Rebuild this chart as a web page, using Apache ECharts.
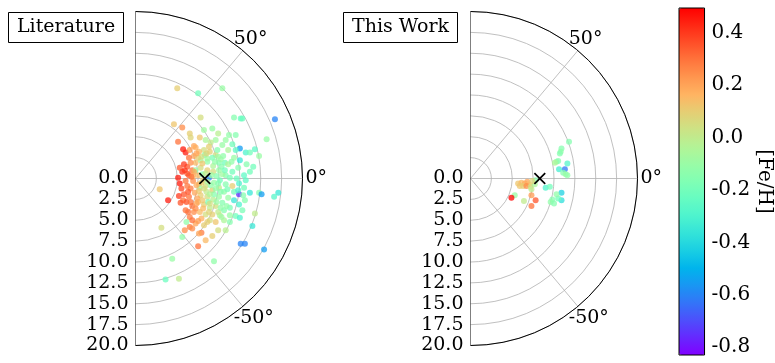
<!DOCTYPE html>
<html><head><meta charset="utf-8">
<script src="https://cdn.jsdelivr.net/npm/echarts@6/dist/echarts.min.js"></script>
<style>html,body{margin:0;padding:0;background:#fff}#c{width:775px;height:363px}</style>
</head><body><div id="c"></div>
<script>
const FONT = 'DejaVu Serif';
const panelTitles = ['Literature', 'This Work'];
const angleTicks = [-50, 0, 50];
const colorbarTicks = [-0.8, -0.6, -0.4, -0.2, 0.0, 0.2, 0.4];
const fehMin = -0.83, fehMax = 0.495;
const sunR = 8.3, sunPhi = 0;

// Literature sample: galactocentric X, Y (kpc) and [Fe/H]
const litX = [5.0,7.5,10.4,7.8,4.6,5.6,11.8,12.6,12.8,16.7,15.7,6.5,6.6,7.7,5.1,5.7,6.0,7.0,9.9,11.2,12.0,12.5,13.2,13.7,14.3,14.8,13.3,14.1,12.4,13.7,14.8,15.1,17.1,16.6,12.4,12.4,13.1,14.3,14.0,12.6,13.1,15.4,9.4,4.4,5.2,3.6,3.1,2.9,3.9,5.3,5.6,5.6,6.1,7.9,5.9,6.5,7.2,8.2,8.9,9.6,10.1,10.6,11.3,11.1,11.8,11.6,10.8,11.6,12.3,13.0,12.5,11.8,11.1,10.4,9.6,9.0,8.4,10.5,9.6,8.9,8.2,7.6,7.0,6.4,6.2,6.8,6.4,7.2,7.8,8.6,9.3,10.0,10.0,9.3,8.6,7.8,7.5,8.1,8.8,9.4,10.1,10.8,10.0,9.2,8.4,7.6,6.9,6.2,5.8,6.4,7.1,7.8,8.6,9.3,10.0,10.4,9.6,8.9,8.2,7.5,6.8,7.0,7.7,8.4,9.2,6.5,6.3,9.9,10.8,9.2,8.4,7.5,11.3,12.0,12.8,12.5,8.3,9.2,10.7,11.3,10.6,9.4,8.7,7.7,7.2,8.0,6.9,7.5,10.4,11.1,12.0,10.8,11.6,9.2,8.2,7.2,6.5,5.8,5.3,6.0,5.1,5.7,5.2,6.0,11.8,12.3,13.0,13.2,13.7,12.9,11.3,10.6,8.8,9.8,10.2,8.0,6.6,7.3,9.0,9.7,8.5,7.3,6.1,6.6,5.5,10.9,9.9,7.9,11.5,12.1,
  7.0,7.6,8.2,8.9,9.6,10.2,9.1,8.4,7.9,8.6,9.9,6.6,7.4,8.0,8.9,9.7,10.2,7.2,8.1,8.8,6.8,7.5,8.6,7.9,8.6,9.5,10.3,9.9,8.5,7.3,6.7,6.2,5.9,6.3,5.4,6.8,7.6,10.3,11.0,10.7];
const litY = [10.8,10.2,10.8,7.3,6.5,6.1,7.3,7.2,7.2,7.1,4.7,5.4,4.9,4.9,4.4,3.5,3.1,3.9,5.4,5.2,5.2,3.6,3.1,3.1,3.5,2.7,1.7,1.4,-0.6,-1.7,-1.7,-1.9,-1.7,-2.2,-1.9,-3.1,-2.6,-4.2,-5.7,-7.8,-7.8,-8.5,-9.9,-9.6,-12.0,-12.1,-5.9,-1.3,-2.6,-0.6,0.8,-7.0,-5.2,-6.5,-6.2,-5.8,-5.4,-5.6,-5.0,-5.2,-4.4,-3.8,-3.5,-2.3,-1.6,-0.9,0.4,0.8,1.3,0.4,2.2,2.5,3.4,4.0,4.6,4.3,4.6,2.7,2.8,3.2,3.4,3.2,2.7,2.5,1.4,1.0,0.4,1.9,2.2,2.0,1.5,1.9,1.0,0.8,1.0,1.3,0.4,-0.2,0.1,-0.5,-0.2,-0.7,-1.1,-1.4,-0.9,-0.7,-0.3,-0.9,-1.9,-2.2,-1.7,-2.0,-2.2,-2.5,-2.2,-2.9,-3.3,-3.5,-3.1,-2.8,-3.3,-4.0,-4.0,-4.3,-4.3,-4.6,-4.0,-6.2,-6.2,-6.9,-7.4,-8.1,-5.2,-4.5,-3.8,-4.7,2.8,2.5,1.9,0.1,-1.6,-1.9,-2.8,-1.1,1.0,0.5,0.3,2.5,0.5,1.7,3.4,4.6,4.1,6.0,5.8,3.7,3.4,1.7,1.3,-0.3,0.1,-2.6,-2.1,-3.8,-2.6,-1.4,-1.1,-0.2,0.8,-2.0,-4.4,-5.0,3.8,3.4,2.3,1.8,1.9,-0.8,-0.8,0.3,-1.6,-3.0,-2.8,-1.2,-1.2,-3.3,-4.0,-4.8,2.0,0.0,
  0.8,-1.5,-1.2,-1.9,-1.2,-1.6,0.4,0.6,-0.5,-0.4,-0.6,-2.8,-2.4,-2.6,-3.0,-2.8,-3.5,-3.6,-3.6,-4.0,-5.0,-5.1,-5.2,2.6,2.4,2.0,1.4,2.6,3.0,3.0,0.2,0.6,1.0,-1.6,-2.9,-6.0,-6.6,-4.6,-1.3,1.0];
const litFeH = [0.1,-0.2,-0.1,0.05,0.12,0.25,-0.15,-0.22,-0.22,-0.6,-0.1,0.1,0.08,0.12,0.3,0.45,0.45,0.2,-0.02,-0.12,-0.15,-0.55,-0.3,-0.2,-0.25,-0.1,-0.15,-0.2,-0.3,-0.35,-0.15,-0.55,-0.35,-0.28,-0.75,-0.3,-0.15,0.0,-0.35,-0.6,-0.6,-0.55,-0.12,-0.1,0.0,-0.22,0.05,0.12,0.45,0.45,0.42,-0.12,-0.12,0.28,0.25,0.28,0.2,0.1,0.05,0.12,-0.05,-0.15,-0.18,-0.1,-0.2,0.1,-0.15,-0.2,-0.15,-0.25,-0.35,-0.1,-0.05,-0.1,-0.08,0.0,-0.05,-0.12,0.05,0.1,0.05,0.15,0.2,0.3,0.35,0.3,0.35,0.15,-0.08,-0.12,-0.05,-0.15,-0.1,0.05,0.1,0.05,0.15,0.1,-0.6,-0.1,-0.2,-0.15,0.0,0.1,0.05,0.15,0.25,0.3,0.35,0.3,0.2,0.1,0.05,-0.02,-0.1,-0.15,0.05,0.0,0.1,0.15,0.3,0.25,0.15,0.05,0.1,0.28,0.3,0.05,-0.02,0.1,0.15,0.3,-0.15,-0.2,-0.18,-0.3,-0.15,-0.18,-0.2,-0.18,-0.12,-0.15,-0.18,-0.1,-0.1,-0.15,0.15,0.1,-0.08,-0.05,-0.25,-0.1,-0.2,-0.1,-0.08,0.18,0.22,0.4,0.35,0.3,0.45,0.3,0.4,0.3,-0.35,-0.3,-0.2,-0.25,-0.2,-0.15,-0.1,-0.05,0.1,-0.15,-0.1,0.12,0.25,0.18,-0.12,-0.15,0.0,0.2,0.35,0.28,0.38,-0.12,0.0,0.18,-0.12,-0.22,
  0.2,0.12,0.05,-0.05,-0.12,-0.15,-0.1,0.0,0.1,-0.05,-0.15,0.3,0.2,0.12,0.05,-0.1,-0.12,0.25,0.15,0.08,0.3,0.22,0.1,0.05,-0.08,-0.12,-0.15,-0.1,0.08,0.2,0.3,0.35,0.4,0.35,0.35,0.25,0.2,-0.08,-0.18,-0.2];

// This Work sample
const workX = [11.8,10.9,10.8,10.7,10.3,10.5,10.1,11.6,11.3,10.6,11.1,11.4,11.6,9.0,9.5,7.8,10.9,10.9,9.8,9.6,10.0,10.5,10.3,5.7,6.1,6.5,6.8,7.0,5.9,6.3,6.7,7.2,7.7,7.4,5.3,4.9,6.4,7.3,7.8,7.3,7.3];
const workY = [4.4,3.6,3.2,3.0,2.0,2.1,1.9,1.8,1.1,1.1,0.7,0.5,0.4,-1.1,-1.0,-0.2,-1.7,-2.6,-2.5,-2.8,-3.0,-2.4,-1.9,-0.6,-0.5,-0.6,-0.4,-0.7,-0.9,-0.9,-0.9,-1.0,-0.7,-0.3,-2.0,-2.3,-2.7,-2.0,-2.6,-3.3,-1.3];
const workFeH = [-0.15,-0.15,-0.12,-0.15,-0.1,-0.15,-0.05,-0.28,-0.62,-0.32,-0.15,-0.1,-0.12,-0.3,-0.2,-0.15,-0.42,-0.38,-0.15,-0.12,-0.15,-0.2,-0.12,0.12,0.15,0.18,0.2,0.15,0.12,0.1,0.25,0.05,-0.05,0.08,-0.1,0.49,0.0,0.22,0.35,0.3,0.0];

function toPolar(xs, ys, fs) {
  return xs.map((x, i) => [Math.hypot(x, ys[i]), Math.atan2(ys[i], x) * 180 / Math.PI, fs[i]]);
}
// matplotlib "rainbow" colormap stops
const rainbow = [];
for (let i = 0; i <= 20; i++) {
  const t = i / 20;
  const r = Math.min(1, Math.abs(2 * t - 0.5)), g = Math.max(0, Math.sin(Math.PI * t)), b = Math.max(0, Math.cos(Math.PI * t / 2));
  rainbow.push('rgb(' + Math.round(r * 255) + ',' + Math.round(g * 255) + ',' + Math.round(b * 255) + ')');
}

const centers = [[135.5, 178.5], [470.5, 178.5]];
const FS = 19;
const txt = { fontFamily: FONT, fontSize: FS, color: '#000' };
const txtL = { fontFamily: FONT, fontSize: 20, color: '#000' };
const grey = { color: '#b0b0b0', width: 0.8 };
const crossPath = 'path://M1,0L5,4L9,0L10,1L6,5L10,9L9,10L5,6L1,10L0,9L4,5L0,1Z';

const series = [
  { type: 'scatter', coordinateSystem: 'polar', polarIndex: 0, data: toPolar(litX, litY, litFeH), symbolSize: 6, itemStyle: { opacity: 0.75 }, z: 3 },
  { type: 'scatter', coordinateSystem: 'polar', polarIndex: 1, data: toPolar(workX, workY, workFeH), symbolSize: 6, itemStyle: { opacity: 0.75 }, z: 3 }
];
[0, 1].forEach(i => {
  series.push({ type: 'line', coordinateSystem: 'polar', polarIndex: i, data: [[20, 90], [20, -90]], symbol: 'none', lineStyle: { color: '#000', width: 1 }, silent: true, z: 4 });
  series.push({ type: 'scatter', coordinateSystem: 'polar', polarIndex: i, data: [[sunR, sunPhi]], symbol: crossPath, symbolSize: 12, itemStyle: { color: '#000', opacity: 1 }, z: 5 });
});

const option = {
  animation: false,
  backgroundColor: '#fff',
  title: panelTitles.map((t, i) => ({
    text: t, left: i === 0 ? 8 : 343, top: 12, padding: [6, 9, 6, 9],
    borderColor: '#000', borderWidth: 1,
    textStyle: { fontFamily: FONT, fontSize: 19, fontWeight: 'normal', color: '#000' }
  })),
  polar: centers.map(c => ({ center: c, radius: 167 })),
  angleAxis: [0, 1].map(i => ({
    polarIndex: i, type: 'value', min: -90, max: 90, startAngle: -90, endAngle: 90, clockwise: false,
    axisLine: { show: true, lineStyle: { color: '#000', width: 1 } },
    axisTick: { show: false, customValues: angleTicks },
    axisLabel: Object.assign({
      customValues: angleTicks, margin: 3,
      formatter: v => v === 0 ? '{z|0°}' : '{s|' + v + '°}',
      rich: { z: Object.assign({}, txt), s: Object.assign({ padding: [0, 0, 0, -11] }, txt) }
    }, txt),
    splitLine: { show: true, lineStyle: grey }
  })),
  radiusAxis: [0, 1].map(i => ({
    polarIndex: i, type: 'value', min: 0, max: 20, interval: 2.5,
    axisLine: { show: false }, axisTick: { show: false },
    axisLabel: Object.assign({ formatter: v => v.toFixed(1), margin: -7, align: 'right' }, txt),
    splitLine: { show: true, lineStyle: grey }
  })),
  visualMap: {
    type: 'continuous', min: fehMin, max: fehMax, dimension: 2, seriesIndex: [0, 1],
    inRange: { color: rainbow }, left: 679, top: 8, itemWidth: 26, itemHeight: 347,
    calculable: false, padding: 0, orient: 'vertical'
  },
  grid: { left: 679, top: 8, width: 26, height: 347, show: true, borderColor: '#000', borderWidth: 1, backgroundColor: 'transparent', z: 10 },
  xAxis: { type: 'value', show: false, min: 0, max: 1 },
  yAxis: {
    type: 'value', position: 'right', min: fehMin, max: fehMax,
    axisLine: { show: false },
    axisTick: { show: true, length: 4, customValues: colorbarTicks, lineStyle: { color: '#000' } },
    axisLabel: Object.assign({ customValues: colorbarTicks, formatter: v => v.toFixed(1), margin: 7 }, txtL),
    splitLine: { show: false },
    name: '[Fe/H]', nameLocation: 'middle', nameRotate: -90, nameGap: 48,
    nameTextStyle: txtL
  },
  series: series
};
const chart = echarts.init(document.getElementById('c'));
chart.setOption(option);
</script></body></html>
